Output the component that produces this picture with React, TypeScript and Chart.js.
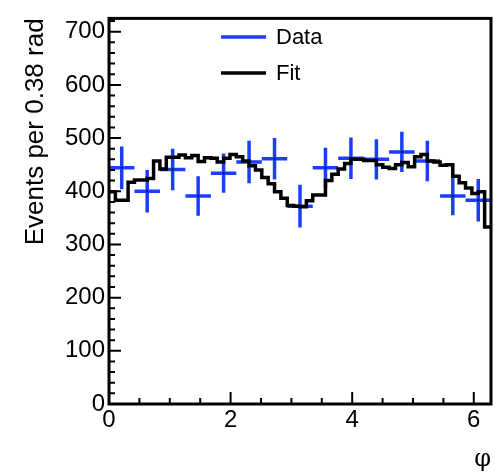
import React, { useEffect, useRef } from "react";
import { Chart, registerables } from "chart.js";

Chart.register(...registerables);

// ---------------- data ----------------
const X_MIN = 0;
const X_MAX = 2 * Math.PI;
const Y_MIN = 0;
const Y_MAX = 725;

// Data histogram (15 bins over 0..2pi)
const DATA_VALUES = [444, 400, 441, 391, 434, 455, 461, 372, 444, 462, 460, 474, 457, 391, 383];
const DATA_ERRORS = [40, 40, 39, 37, 37, 40, 39, 40, 38, 39, 38, 38, 38, 36, 40];

// Fit curve (60 bins over 0..2pi)
const FIT_VALUES = [
  399, 383, 383, 417, 421, 421, 424, 457, 442, 464,
  464, 468, 463, 467, 456, 463, 462, 455, 462, 469,
  465, 457, 448, 440, 426, 414, 399, 387, 373, 372,
  371, 382, 393, 393, 420, 432, 442, 452, 460, 460,
  458, 458, 450, 445, 443, 450, 454, 446, 465, 469,
  457, 455, 449, 450, 428, 416, 406, 396, 399, 333,
];

const Y_TITLE = "Events per 0.38 rad";
const X_TITLE = "\u03C6";
const LEGEND_LABELS = ["Data", "Fit"];

const BLUE = "#1a3dff";
const BLACK = "#000000";
const FONT = "'Liberation Sans', Arial, Helvetica, sans-serif";

const dataBinWidth = (X_MAX - X_MIN) / DATA_VALUES.length;
const DATA_X = DATA_VALUES.map((_, i) => X_MIN + (i + 0.5) * dataBinWidth);
const fitBinWidth = (X_MAX - X_MIN) / FIT_VALUES.length;
const FIT_POINTS = FIT_VALUES.map((v, i) => ({ x: X_MIN + i * fitBinWidth, y: v }));
FIT_POINTS.push({ x: X_MAX, y: FIT_VALUES[FIT_VALUES.length - 1] });

// ---------------- plugins ----------------
const bgPlugin = {
  id: "bg",
  beforeDraw(chart: any) {
    const { ctx, width, height } = chart;
    ctx.save();
    ctx.fillStyle = "#ffffff";
    ctx.fillRect(0, 0, width, height);
    ctx.restore();
  },
};

const errorBarPlugin = {
  id: "errorBars",
  beforeDatasetsDraw(chart: any) {
    const { ctx } = chart;
    const x = chart.scales.x;
    const y = chart.scales.y;
    ctx.save();
    ctx.strokeStyle = BLUE;
    ctx.lineWidth = 3.5;
    DATA_VALUES.forEach((v, i) => {
      const xc = DATA_X[i];
      const px = x.getPixelForValue(xc);
      const py = y.getPixelForValue(v);
      const pl = x.getPixelForValue(xc - dataBinWidth / 2);
      const pr = x.getPixelForValue(xc + dataBinWidth / 2);
      const pt = y.getPixelForValue(v + DATA_ERRORS[i]);
      const pb = y.getPixelForValue(v - DATA_ERRORS[i]);
      ctx.beginPath();
      ctx.moveTo(pl, py);
      ctx.lineTo(pr, py);
      ctx.moveTo(px, pt);
      ctx.lineTo(px, pb);
      ctx.stroke();
    });
    ctx.restore();
  },
};

const framePlugin = {
  id: "frame",
  afterDraw(chart: any) {
    const { ctx, chartArea } = chart;
    const { left, right, top, bottom } = chartArea;
    const x = chart.scales.x;
    const y = chart.scales.y;
    ctx.save();
    ctx.strokeStyle = BLACK;
    // ticks
    ctx.lineWidth = 2;
    ctx.beginPath();
    for (let v = 0; v <= Y_MAX; v += 20) {
      const py = y.getPixelForValue(v);
      const len = v % 100 === 0 ? 12 : 6;
      ctx.moveTo(left, py);
      ctx.lineTo(left + len, py);
    }
    for (let k = 0; k * 0.5 <= X_MAX; k++) {
      const v = k * 0.5;
      const px = x.getPixelForValue(v);
      const len = k % 4 === 0 ? 12 : 6;
      ctx.moveTo(px, bottom);
      ctx.lineTo(px, bottom - len);
    }
    ctx.stroke();
    // frame
    ctx.lineWidth = 3;
    ctx.strokeRect(left, top, right - left, bottom - top);

    // legend
    const entries = [
      { label: LEGEND_LABELS[0], color: BLUE, y: 37 },
      { label: LEGEND_LABELS[1], color: BLACK, y: 73 },
    ];
    ctx.font = `22px ${FONT}`;
    ctx.textBaseline = "middle";
    ctx.textAlign = "left";
    entries.forEach((e) => {
      ctx.strokeStyle = e.color;
      ctx.lineWidth = 3.5;
      ctx.beginPath();
      ctx.moveTo(221, e.y);
      ctx.lineTo(266, e.y);
      ctx.stroke();
      ctx.fillStyle = BLACK;
      ctx.fillText(e.label, 276, e.y + 1);
    });
    ctx.restore();
  },
};

// ---------------- component ----------------
export default function App() {
  const ref = useRef<HTMLCanvasElement | null>(null);

  useEffect(() => {
    if (!ref.current) return;
    const chart = new Chart(ref.current, {
      type: "scatter",
      data: {
        datasets: [
          {
            type: "line",
            label: "Fit",
            data: FIT_POINTS,
            stepped: true,
            borderColor: BLACK,
            borderWidth: 3.5,
            pointRadius: 0,
            fill: false,
            order: 0,
          } as any,
          {
            type: "scatter",
            label: "Data",
            data: DATA_VALUES.map((v, i) => ({ x: DATA_X[i], y: v })),
            pointRadius: 1,
            pointBackgroundColor: "#000022",
            pointBorderWidth: 0,
            order: 1,
          } as any,
        ],
      },
      options: {
        responsive: false,
        animation: false,
        layout: { padding: { left: 0, top: 8, right: 1, bottom: 0 } },
        plugins: {
          legend: { display: false },
          tooltip: { enabled: false },
        },
        scales: {
          x: {
            type: "linear",
            min: X_MIN,
            max: X_MAX,
            grid: { display: false, drawTicks: false, tickLength: 0 },
            border: { display: false },
            ticks: {
              stepSize: 2,
              includeBounds: false,
              autoSkip: false,
              maxRotation: 0,
              padding: 2,
              color: BLACK,
              font: { family: FONT, size: 24 },
            },
            title: {
              display: true,
              text: X_TITLE,
              align: "end",
              color: BLACK,
              font: { family: "'DejaVu Serif', 'Liberation Serif', serif", size: 24, lineHeight: 1 },
              padding: { top: 0, bottom: -1 },
            },
            afterFit: (scale: any) => {
              scale.height = 67;
            },
          },
          y: {
            type: "linear",
            min: Y_MIN,
            max: Y_MAX,
            grid: { display: false, drawTicks: false, tickLength: 0 },
            border: { display: false },
            ticks: {
              stepSize: 100,
              includeBounds: false,
              autoSkip: false,
              padding: 4,
              color: BLACK,
              font: { family: FONT, size: 24 },
            },
            title: {
              display: true,
              text: Y_TITLE,
              align: "end",
              color: BLACK,
              font: { family: FONT, size: 26 },
              padding: { top: 20, bottom: 0 },
            },
            afterFit: (scale: any) => {
              scale.width = 109;
            },
          },
        },
      } as any,
      plugins: [bgPlugin, errorBarPlugin, framePlugin],
    });
    return () => chart.destroy();
  }, []);

  return (
    <div style={{ position: "absolute", left: 0, top: 0, width: 495, height: 471 }}>
      <canvas ref={ref} width={495} height={471} style={{ display: "block" }} />
    </div>
  );
}
